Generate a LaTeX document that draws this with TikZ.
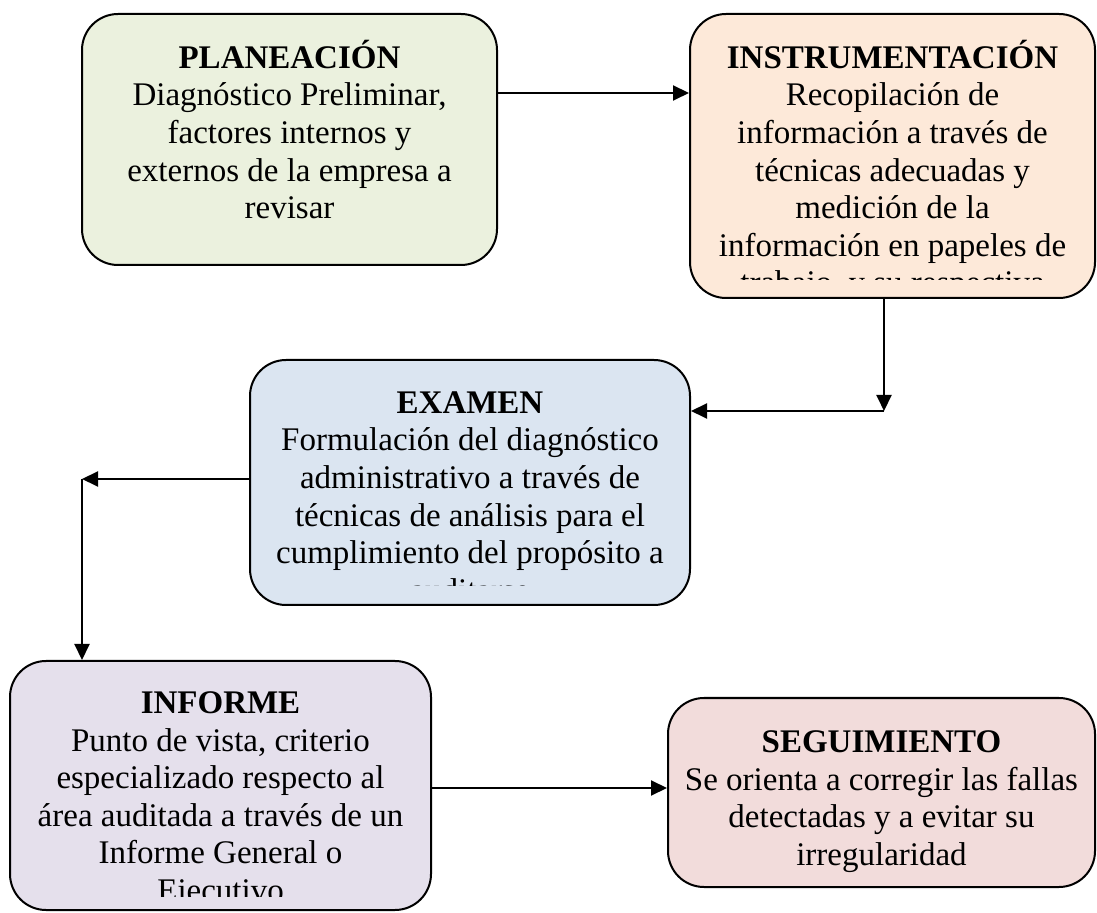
\documentclass[tikz,border=0pt]{standalone}
\usepackage{fontspec}
\setmainfont{Liberation Serif}
\usetikzlibrary{arrows.meta}
\definecolor{plangreen}{HTML}{EBF1DE}
\definecolor{instrpeach}{HTML}{FDE9D9}
\definecolor{examblue}{HTML}{DBE5F1}
\definecolor{inflilac}{HTML}{E5E0EC}
\definecolor{segpink}{HTML}{F2DCDB}
\tikzset{
  stagebox/.style={draw=black,line width=1pt,rounded corners=18pt,fill=#1,inner sep=0pt},
  stagetext/.style={anchor=north,align=center,inner sep=0pt,font=\fontsize{16.5}{18.8}\selectfont},
  arr/.style={draw=black,line width=1pt,-{Triangle[length=8pt,width=7.5pt]}}
}
\newcommand{\ttl}[1]{\rule{0pt}{16pt}\textbf{#1}}
\newcommand{\boxtext}[4]{%
  \begin{scope}
    \clip (#1.north west) rectangle ([yshift=#3]#1.south east);
    \node[stagetext] (#1txt) at ([yshift=#2]#1.north) {#4};
  \end{scope}}
\begin{document}
\begin{tikzpicture}[x=0.5pt,y=-0.5pt]
    \useasboundingbox (0,0) rectangle (1097,913);
    \node[stagebox=plangreen,minimum width=207.5pt,minimum height=125.5pt] (plan) at (289.5,139.5) {};
    \node[stagebox=instrpeach,minimum width=202.5pt,minimum height=142pt] (instr) at (892.5,156) {};
    \node[stagebox=examblue,minimum width=220pt,minimum height=122.5pt] (exam) at (470,482.5) {};
    \node[stagebox=inflilac,minimum width=210.5pt,minimum height=124.5pt] (inf) at (220.5,785.5) {};
    \node[stagebox=segpink,minimum width=213.5pt,minimum height=94.5pt] (seg) at (881.5,792.5) {};
    \boxtext{plan}{-11.5pt}{0pt}{\ttl{PLANEACIÓN}\\Diagnóstico Preliminar,\\factores internos y\\externos de la empresa a\\revisar}
    \boxtext{instr}{-11.5pt}{9.5pt}{\ttl{INSTRUMENTACIÓN}\\Recopilación de\\información a través de\\técnicas adecuadas y\\medición de la\\información en papeles de\\trabajo, y su respectiva}
    \boxtext{exam}{-11pt}{10pt}{\ttl{EXAMEN}\\Formulación del diagnóstico\\administrativo a través de\\técnicas de análisis para el\\cumplimiento del propósito a\\auditarse}
    \boxtext{inf}{-10.5pt}{7.5pt}{\ttl{INFORME}\\Punto de vista, criterio\\especializado respecto al\\área auditada a través de un\\Informe General o\\Ejecutivo}
    \boxtext{seg}{-11.5pt}{0pt}{\ttl{SEGUIMIENTO}\\Se orienta a corregir las fallas\\detectadas y a evitar su\\irregularidad}
    \coordinate (k1) at (884,411);
    \coordinate (k2) at (82,479);
    \draw[arr] ([yshift=23.25pt]plan.east) coordinate (a1) -- (a1 -| instr.west);
    \draw[arr] (k1 |- instr.south) -- (k1);
    \draw[arr] (k1) -- (k1 -| exam.east);
    \draw[arr] (k2 -| exam.west) -- (k2);
    \draw[arr] (k2) -- (k2 |- inf.north);
    \draw[arr] ([yshift=-1.25pt]inf.east) coordinate (a4) -- (a4 -| seg.west);
\end{tikzpicture}
\end{document}
